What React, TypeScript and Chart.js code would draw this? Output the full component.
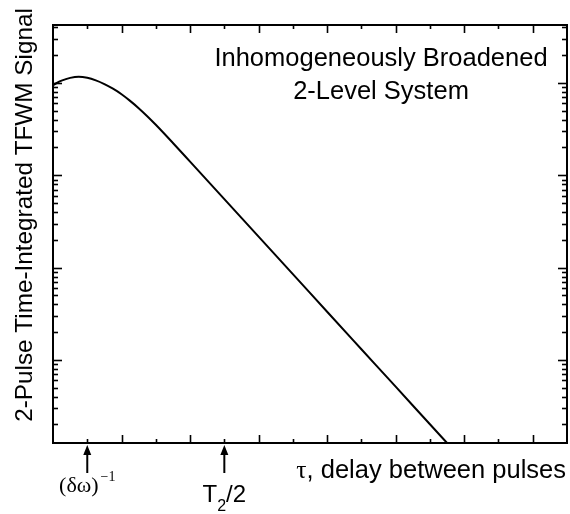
import React, { useEffect, useRef } from "react";
import { Chart, registerables } from "chart.js";

Chart.register(...registerables);

// delay tau (arb. units) and signal (arb., log scale)
const TAU = [0, 0.25, 0.5, 0.75, 1, 1.25, 1.5, 1.75, 2, 2.25, 2.5, 2.75, 3, 3.5, 4, 5, 6, 7, 8, 9, 10, 11, 11.5];
const SIGNAL = [950.6, 1059, 1135, 1169, 1138, 1067, 972.8, 867, 755.1, 639.7, 533.3, 436.5, 352.4, 223.9, 140.6, 55.21, 21.63, 8.492, 3.327, 1.306, 0.5129, 0.2009, 0.1259];

const X_MIN = 0;
const X_MAX = 15;
const X_TICKS = [1, 2, 3, 4, 5, 6, 7, 8, 9, 10, 11, 12, 13, 14];
const Y_MIN = 0.1259;
const Y_MAX = 4246;
const ARROW_TAU = [1, 5];

const SANS = '"Liberation Sans", Arial, sans-serif';
const SERIF = '"Liberation Serif", "Times New Roman", serif';

const framePlugin = {
  id: "frame",
  afterDatasetsDraw(chart: any) {
    const { ctx, chartArea, scales } = chart;
    const { left, right, top, bottom } = chartArea;
    const x = scales.x;
    const y = scales.y;
    const line = (x1: number, y1: number, x2: number, y2: number) => {
      ctx.beginPath();
      ctx.moveTo(x1, y1);
      ctx.lineTo(x2, y2);
      ctx.stroke();
    };
    ctx.save();
    ctx.strokeStyle = "#000";
    ctx.fillStyle = "#000";
    ctx.lineWidth = 2;
    ctx.strokeRect(left, top, right - left, bottom - top);

    // x ticks (inward, top & bottom)
    ctx.lineWidth = 1.6;
    for (const v of X_TICKS) {
      const px = Math.round(x.getPixelForValue(v)) + 0.5;
      const len = v % 2 === 0 ? 8 : 4;
      line(px, bottom, px, bottom - len);
      line(px, top, px, top + len);
    }
    // y ticks (log, inward, left & right)
    const dMin = Math.floor(Math.log10(Y_MIN));
    const dMax = Math.ceil(Math.log10(Y_MAX));
    for (let d = dMin; d <= dMax; d++) {
      for (let k = 1; k <= 9; k++) {
        const v = k * Math.pow(10, d);
        if (v <= Y_MIN || v >= Y_MAX) continue;
        const py = Math.round(y.getPixelForValue(v)) + 0.5;
        const len = k === 1 ? 9 : 5;
        line(left, py, left + len, py);
        line(right, py, right - len, py);
      }
    }

    // arrows
    ctx.lineWidth = 2;
    for (const a of ARROW_TAU) {
      const px = x.getPixelForValue(a);
      const tip = bottom + 2;
      line(px, tip + 6, px, tip + 28);
      ctx.beginPath();
      ctx.moveTo(px, tip);
      ctx.lineTo(px - 4, tip + 10);
      ctx.lineTo(px + 4, tip + 10);
      ctx.closePath();
      ctx.fill();
    }

    // y title
    ctx.save();
    ctx.translate(32, 215);
    ctx.rotate(-Math.PI / 2);
    ctx.font = `24.3px ${SANS}`;
    ctx.textAlign = "center";
    ctx.textBaseline = "alphabetic";
    ctx.fillText("2-Pulse Time-Integrated TFWM Signal", 0, 0);
    ctx.restore();

    // annotation
    ctx.font = `25.5px ${SANS}`;
    ctx.textAlign = "center";
    ctx.textBaseline = "alphabetic";
    ctx.fillText("Inhomogeneously Broadened", 381, 66);
    ctx.fillText("2-Level System", 381, 99);

    // x title
    ctx.textAlign = "right";
    ctx.font = `25.5px ${SANS}`;
    const rest = ", delay between pulses";
    ctx.fillText(rest, 566, 478);
    const w = ctx.measureText(rest).width;
    ctx.font = `25.5px ${SERIF}`;
    ctx.fillText("τ", 566 - w, 478);

    // (δω)^-1 label
    ctx.textAlign = "left";
    const p1 = x.getPixelForValue(ARROW_TAU[0]);
    ctx.font = `22px ${SERIF}`;
    const main = "(δω)";
    const mw = ctx.measureText(main).width;
    ctx.font = `14px ${SERIF}`;
    const sup = "−1";
    const sw = ctx.measureText(sup).width;
    const sx = p1 - (mw + sw + 2) / 2;
    ctx.font = `22px ${SERIF}`;
    ctx.fillText(main, sx, 492);
    ctx.font = `14px ${SERIF}`;
    ctx.fillText(sup, sx + mw + 2, 481);

    // T2/2 label
    const p2 = x.getPixelForValue(ARROW_TAU[1]);
    ctx.font = `24px ${SANS}`;
    const tw = ctx.measureText("T").width;
    const rw = ctx.measureText("/2").width;
    ctx.font = `16px ${SANS}`;
    const subw = ctx.measureText("2").width;
    const tx = p2 - (tw + subw + rw) / 2;
    ctx.font = `24px ${SANS}`;
    ctx.fillText("T", tx, 502);
    ctx.font = `16px ${SANS}`;
    ctx.fillText("2", tx + tw, 511);
    ctx.font = `24px ${SANS}`;
    ctx.fillText("/2", tx + tw + subw, 502);

    ctx.restore();
  },
};

export default function App() {
  const ref = useRef<HTMLCanvasElement | null>(null);
  useEffect(() => {
    if (!ref.current) return;
    const chart = new Chart(ref.current, {
      type: "line",
      data: {
        datasets: [
          {
            data: TAU.map((t, i) => ({ x: t, y: SIGNAL[i] })),
            borderColor: "#000",
            borderWidth: 2,
            pointRadius: 0,
            fill: false,
            cubicInterpolationMode: "monotone",
          },
        ],
      },
      options: {
        animation: false,
        responsive: false,
        events: [],
        layout: { padding: { left: 53, top: 25, right: 3, bottom: 71 } },
        plugins: { legend: { display: false }, tooltip: { enabled: false }, title: { display: false } },
        scales: {
          x: { type: "linear", min: X_MIN, max: X_MAX, display: false },
          y: { type: "logarithmic", min: Y_MIN, max: Y_MAX, display: false },
        },
      },
      plugins: [framePlugin],
    });
    return () => chart.destroy();
  }, []);
  return (
    <div style={{ position: "fixed", left: 0, top: 0, width: 570, height: 514, background: "#fff" }}>
      <canvas ref={ref} width={570} height={514} />
    </div>
  );
}
